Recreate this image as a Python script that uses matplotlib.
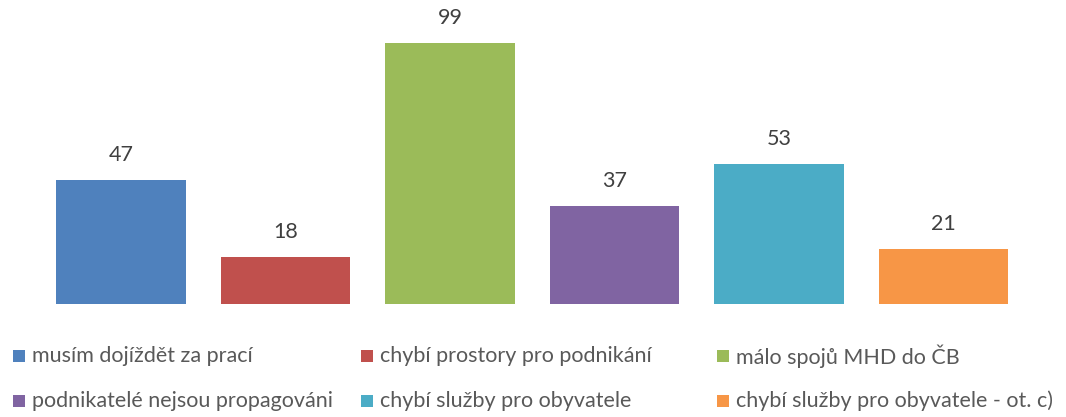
import matplotlib.pyplot as plt
from matplotlib.patches import Rectangle

# data
kategorie = ['musím dojíždět za prací', 'chybí prostory pro podnikání', 'málo spojů MHD do ČB',
             'podnikatelé nejsou propagováni', 'chybí služby pro obyvatele',
             'chybí služby pro obyvatele - ot. c)']
hodnoty = [47, 18, 99, 37, 53, 21]
barvy = ['#4F81BD', '#C0504D', '#9BBB59', '#8064A2', '#4BACC6', '#F79646']

plt.rcParams['font.family'] = ['Lato', 'DejaVu Sans']
W, H = 1066, 417
fig = plt.figure(figsize=(W / 100, H / 100), dpi=100)

# plot area (pixel coords from reference)
x0, x1 = 38.75, 1025.75
y_base = 304
ymax = 110
px_per_unit = 261 / 99
top = y_base - ymax * px_per_unit
ax = fig.add_axes([x0 / W, 1 - y_base / H, (x1 - x0) / W, (y_base - top) / H])

x = range(len(hodnoty))
ax.bar(x, hodnoty, width=0.79, color=barvy)
for xi, v in zip(x, hodnoty):
    ax.annotate(str(v), (xi, v), xytext=(0, 25), textcoords='offset pixels',
                ha='center', va='center', fontsize=15.5, color='#404040')
ax.set_xlim(-0.5, len(hodnoty) - 0.5)
ax.set_ylim(0, ymax)
ax.axis('off')

# legend, 3 columns x 2 rows
col_x = [13, 361, 717]
row_y = [356, 401]
for i, (lab, c) in enumerate(zip(kategorie, barvy)):
    cx = col_x[i % 3]
    cy = row_y[i // 3]
    fig.patches.append(Rectangle((cx / W, 1 - (cy + 6) / H), 12 / W, 12 / H,
                                 transform=fig.transFigure, facecolor=c, edgecolor='none'))
    fig.text((cx + 19) / W, 1 - cy / H, lab, ha='left', va='center',
             fontsize=15.5, color='#595959')

fig.savefig('out.png', dpi=100)
